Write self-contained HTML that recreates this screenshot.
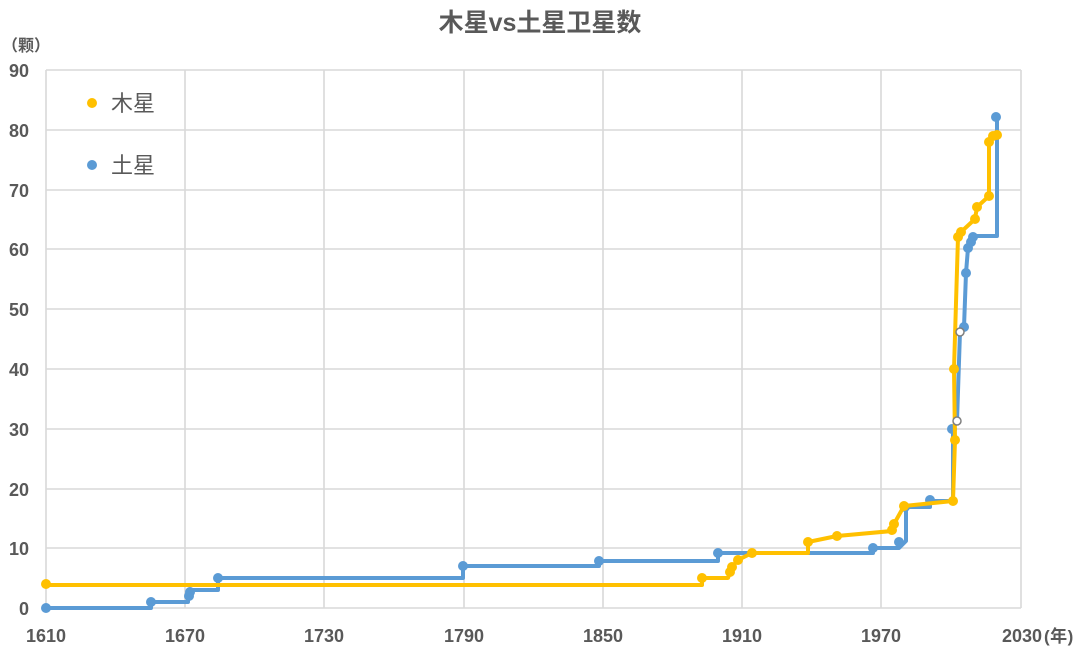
<!DOCTYPE html>
<html><head><meta charset="utf-8"><style>
html,body{margin:0;padding:0;background:#fff;}
body{width:1080px;height:653px;overflow:hidden;}
svg text{font-family:"Liberation Sans","Noto Sans CJK SC",sans-serif;fill:#595959;}
</style></head><body>
<svg width="1080" height="653" viewBox="0 0 1080 653" xmlns="http://www.w3.org/2000/svg">
<rect width="1080" height="653" fill="#fff"/>
<g stroke="#d9d9d9" stroke-width="1.6" fill="none">
<line x1="46" y1="70" x2="1021" y2="70"/>
<line x1="46" y1="130" x2="1021" y2="130"/>
<line x1="46" y1="190" x2="1021" y2="190"/>
<line x1="46" y1="249" x2="1021" y2="249"/>
<line x1="46" y1="309" x2="1021" y2="309"/>
<line x1="46" y1="369" x2="1021" y2="369"/>
<line x1="46" y1="429" x2="1021" y2="429"/>
<line x1="46" y1="489" x2="1021" y2="489"/>
<line x1="46" y1="548" x2="1021" y2="548"/>
<line x1="46" y1="608" x2="1021" y2="608"/>
<line x1="46" y1="70" x2="46" y2="608"/>
<line x1="185" y1="70" x2="185" y2="608"/>
<line x1="324" y1="70" x2="324" y2="608"/>
<line x1="464" y1="70" x2="464" y2="608"/>
<line x1="603" y1="70" x2="603" y2="608"/>
<line x1="742" y1="70" x2="742" y2="608"/>
<line x1="881" y1="70" x2="881" y2="608"/>
<line x1="1021" y1="70" x2="1021" y2="608"/>
</g>
<text x="540" y="31" font-size="25" font-weight="bold" text-anchor="middle">木星vs土星卫星数</text>
<text x="2" y="51" font-size="16" font-weight="bold">（颗）</text>
<g font-size="18" font-weight="bold" text-anchor="end">
<text x="29" y="77">90</text>
<text x="29" y="137">80</text>
<text x="29" y="197">70</text>
<text x="29" y="256">60</text>
<text x="29" y="316">50</text>
<text x="29" y="376">40</text>
<text x="29" y="436">30</text>
<text x="29" y="496">20</text>
<text x="29" y="555">10</text>
<text x="29" y="615">0</text>
</g>
<g font-size="18" font-weight="bold" text-anchor="middle">
<text x="46" y="642">1610</text>
<text x="185" y="642">1670</text>
<text x="324" y="642">1730</text>
<text x="464" y="642">1790</text>
<text x="603" y="642">1850</text>
<text x="742" y="642">1910</text>
<text x="881" y="642">1970</text>
<text x="1022" y="642">2030</text>
</g>
<text x="1044" y="642" font-size="17" font-weight="bold" letter-spacing="0.5">(年)</text>
<circle cx="92" cy="103" r="5" fill="#ffc000"/>
<text x="111" y="111" font-size="22">木星</text>
<circle cx="92" cy="165" r="5" fill="#5b9bd5"/>
<text x="111" y="173" font-size="22">土星</text>

<polyline fill="none" stroke="#5b9bd5" stroke-width="4" stroke-linejoin="round" points="46,608 151,608 151,602 188,602 188,596 190,590 218,590 218,578 463,578 463,566 599,566 599,561 718,561 718,553 873,553 873,548 899,548 906,541 906,507 930,507 930,501 953,501 953,429 957,421 960,332 964,327 966,273 968,248 971,242 973,236 997,236 997,117"/>
<g fill="#5b9bd5">
<circle cx="46" cy="608" r="5"/><circle cx="151" cy="602" r="5"/><circle cx="189" cy="596" r="5"/><circle cx="190" cy="592" r="5"/><circle cx="218" cy="578" r="5"/><circle cx="463" cy="566" r="5"/><circle cx="599" cy="561" r="5"/><circle cx="718" cy="553" r="5"/><circle cx="873" cy="548" r="5"/><circle cx="899" cy="542" r="5"/><circle cx="905" cy="507" r="5"/><circle cx="930" cy="500" r="5"/><circle cx="952" cy="429" r="5"/><circle cx="964" cy="327" r="5"/><circle cx="966" cy="273" r="5"/><circle cx="968" cy="248" r="5"/><circle cx="971" cy="242" r="5"/><circle cx="973" cy="237" r="5"/><circle cx="996" cy="117" r="5"/>
</g>

<polyline fill="none" stroke="#ffc000" stroke-width="4" stroke-linejoin="round" points="46,585 702,585 702,578 728,578 730,572 732,567 738,560 752,553 808,553 808,542 837,536 892,531 894,524 904,506 953,501 955,440 954,369 958,237 961,232 975,219 977,207 989,196 989,142 993,136 997,135"/>
<g fill="#ffc000">
<circle cx="46" cy="584" r="5"/><circle cx="702" cy="578" r="5"/><circle cx="730" cy="572" r="5"/><circle cx="732" cy="567" r="5"/><circle cx="738" cy="560" r="5"/><circle cx="752" cy="553" r="5"/><circle cx="808" cy="542" r="5"/><circle cx="837" cy="536" r="5"/><circle cx="892" cy="530" r="5"/><circle cx="894" cy="524" r="5"/><circle cx="904" cy="506" r="5"/><circle cx="953" cy="501" r="5"/><circle cx="955" cy="440" r="5"/><circle cx="954" cy="369" r="5"/><circle cx="958" cy="237" r="5"/><circle cx="961" cy="232" r="5"/><circle cx="975" cy="219" r="5"/><circle cx="977" cy="207" r="5"/><circle cx="989" cy="196" r="5"/><circle cx="989" cy="142" r="5"/><circle cx="993" cy="136" r="5"/><circle cx="997" cy="135" r="5"/>
</g>
<circle cx="957" cy="421" r="4" fill="#fff" stroke="#7f7f7f" stroke-width="1.5"/>
<circle cx="960" cy="332" r="4" fill="#fff" stroke="#7f7f7f" stroke-width="1.5"/>
</svg>
</body></html>
